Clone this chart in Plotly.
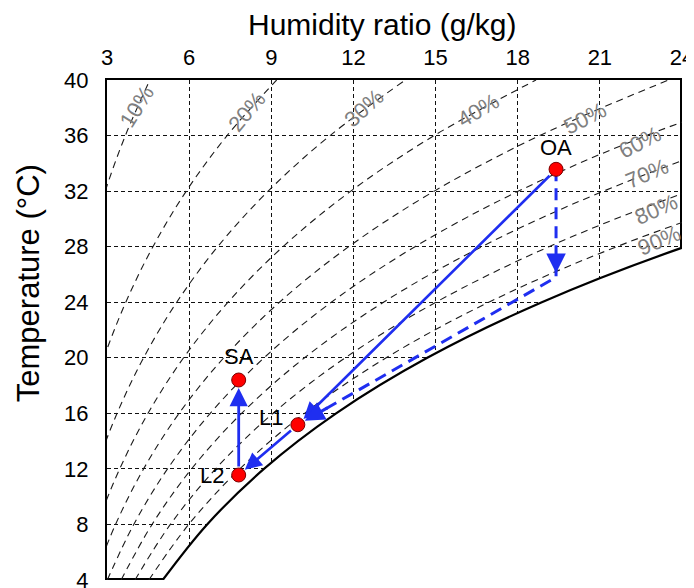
import plotly.graph_objects as go

# ---------------- data ----------------
# Temperature levels (°C) at which the constant-RH curves are tabulated
T_C = [4, 8, 12, 16, 20, 24, 28, 32, 36, 40]
RH_LABELS = ["10%", "20%", "30%", "40%", "50%", "60%", "70%", "80%", "90%"]
# Humidity ratio (g/kg) along each relative-humidity curve, read for T_C
W_10 = [0.500, 0.659, 0.862, 1.118, 1.439, 1.838, 2.330, 2.934, 3.671, 4.564]
W_20 = [1.000, 1.320, 1.727, 2.241, 2.885, 3.687, 4.678, 5.896, 7.386, 9.196]
W_30 = [1.502, 1.982, 2.594, 3.367, 4.337, 5.547, 7.043, 8.886, 11.146, 13.897]
W_40 = [2.004, 2.646, 3.464, 4.498, 5.797, 7.418, 9.427, 11.905, 14.950, 18.669]
W_50 = [2.507, 3.311, 4.336, 5.632, 7.263, 9.300, 11.828, 14.952, 18.801, 23.512]
W_60 = [3.011, 3.977, 5.210, 6.771, 8.736, 11.193, 14.248, 18.030, 22.698, 28.430]
W_70 = [3.515, 4.645, 6.087, 7.914, 10.216, 13.098, 16.687, 21.137, 26.643, 33.420]
W_80 = [4.021, 5.314, 6.966, 9.061, 11.702, 15.014, 19.144, 24.274, 30.636, 38.490]
W_90 = [4.527, 5.985, 7.848, 10.212, 13.196, 16.942, 21.620, 27.442, 34.680, 43.640]
W_SAT = [5.034, 6.657, 8.732, 11.367, 14.697, 18.881, 24.115, 30.641, 38.770, 48.870]
RH_CURVES = [W_10, W_20, W_30, W_40, W_50, W_60, W_70, W_80, W_90]

# State points
PT_NAMES = ["OA", "L1", "L2", "SA"]
PT_W = [19.40, 9.97, 7.81, 7.81]
PT_T = [33.57, 15.18, 11.56, 18.40]
# Dashed alternative path: OA -> cooled point -> L1
PATH_W = [19.40, 19.40, 9.97]
PATH_T = [33.57, 25.80, 15.18]

X_TICKS = [3, 6, 9, 12, 15, 18, 21, 24]
Y_TICKS = [4, 8, 12, 16, 20, 24, 28, 32, 36, 40]

# ---------------- styling ----------------
FONT = "Liberation Sans, Arial, sans-serif"
BLUE = "#1f2ef0"
GREY = "#808080"

fig = go.Figure()

# frame: right edge and bottom edge (half clipped at plot boundary)
fig.add_trace(go.Scatter(x=[24, 24], y=[4, 40], mode="lines",
                         line=dict(color="black", width=4), hoverinfo="skip"))
fig.add_trace(go.Scatter(x=[3, 24], y=[4, 4], mode="lines",
                         line=dict(color="black", width=4), hoverinfo="skip"))

# white region below the saturation curve (hides grid)
fig.add_trace(go.Scatter(x=[60] * len(T_C), y=T_C, mode="lines",
                         line=dict(width=0, color="white"), hoverinfo="skip"))
fig.add_trace(go.Scatter(x=W_SAT, y=T_C, mode="lines", fill="tonextx",
                         fillcolor="white", line=dict(width=0, color="white", shape="spline"),
                         hoverinfo="skip"))

# constant RH curves
for w in RH_CURVES:
    fig.add_trace(go.Scatter(x=w, y=T_C, mode="lines",
                             line=dict(color="#1a1a1a", width=1.1, dash="7px,5px", shape="spline"),
                             hoverinfo="skip"))

# saturation curve
fig.add_trace(go.Scatter(x=W_SAT, y=T_C, mode="lines",
                         line=dict(color="black", width=2.2, shape="spline"), hoverinfo="skip"))

# dashed process path
fig.add_trace(go.Scatter(x=PATH_W, y=PATH_T, mode="lines",
                         line=dict(color=BLUE, width=3, dash="12px,7px"), hoverinfo="skip"))

annotations = []

def arrow(tip_w, tip_t, tail_w, tail_t, width=2.6, standoff=8, startstandoff=7):
    annotations.append(dict(x=tip_w, y=tip_t, ax=tail_w, ay=tail_t, xref="x", yref="y",
                            axref="x", ayref="y", showarrow=True, arrowhead=2,
                            arrowsize=1.3, arrowwidth=width, arrowcolor=BLUE,
                            standoff=standoff, startstandoff=startstandoff, text=""))

# solid arrows OA->L1, L1->L2, L2->SA
arrow(PT_W[1], PT_T[1], PT_W[0], PT_T[0])
arrow(PT_W[2], PT_T[2], PT_W[1], PT_T[1])
arrow(PT_W[3], PT_T[3], PT_W[2], PT_T[2], width=2.8)
# heads on the dashed path
arrow(PATH_W[1], PATH_T[1] + 0.3, PATH_W[1], PATH_T[1] + 1.6, width=3, standoff=0, startstandoff=0)
fr = 0.12
arrow(PATH_W[2], PATH_T[2],
      PATH_W[2] + fr * (PATH_W[1] - PATH_W[2]), PATH_T[2] + fr * (PATH_T[1] - PATH_T[2]),
      width=3, standoff=8, startstandoff=0)

# markers
fig.add_trace(go.Scatter(x=PT_W, y=PT_T, mode="markers",
                         marker=dict(size=14, color="#ff0000", line=dict(color="#7a0000", width=1)),
                         hoverinfo="skip", cliponaxis=False))

# point labels
label_shift = {"OA": (0, 22), "L1": (-27, 7), "L2": (-27, 0), "SA": (0, 24)}
for n, w, t in zip(PT_NAMES, PT_W, PT_T):
    dx, dy = label_shift[n]
    annotations.append(dict(x=w, y=t, xref="x", yref="y", text=n, showarrow=False,
                            xshift=dx, yshift=dy, font=dict(family=FONT, size=22, color="black")))

# RH labels (position along the curve, angle)
rh_label_pos = [(4.10, 38.08, -58), (8.11, 37.72, -50), (12.37, 37.96, -42),
                (16.54, 37.84, -31), (20.44, 37.24, -27), (22.45, 35.50, -27),
                (22.73, 33.28, -23), (23.04, 30.70, -24), (23.16, 28.48, -23)]
for lab, (w, t, ang) in zip(RH_LABELS, rh_label_pos):
    annotations.append(dict(x=w, y=t, xref="x", yref="y", text=lab, showarrow=False,
                            textangle=ang, font=dict(family=FONT, size=22, color=GREY)))

# axis titles
annotations.append(dict(x=0.478, y=1.11, xref="paper", yref="paper", showarrow=False,
                        xanchor="center", yanchor="middle",
                        text="Humidity ratio (g/kg)", font=dict(family=FONT, size=30, color="black")))
annotations.append(dict(x=-0.137, y=0.594, xref="paper", yref="paper", showarrow=False,
                        xanchor="center", yanchor="middle",
                        text="Temperature (°C)", textangle=-90,
                        font=dict(family=FONT, size=31, color="black")))

axis_common = dict(showgrid=True, gridcolor="#111111", gridwidth=1, griddash="4px,3px",
                   showline=True, linecolor="black", linewidth=2, ticks="",
                   zeroline=False, automargin=False, ticklabeloverflow="allow",
                   tickfont=dict(family=FONT, size=22, color="black"))

fig.update_xaxes(side="top", range=[3, 24], tickvals=X_TICKS, ticklabelstandoff=4, **axis_common)
fig.update_yaxes(range=[4, 40], tickvals=Y_TICKS, ticklabelstandoff=12, **axis_common)

# the page body adds an 8px offset, so the figure is 8px smaller and margins shifted
fig.update_layout(width=686, height=580, margin=dict(l=99, r=12, t=72, b=8, autoexpand=False),
                  plot_bgcolor="white", paper_bgcolor="white", showlegend=False,
                  annotations=annotations, font=dict(family=FONT))

fig.write_html("out.html")
